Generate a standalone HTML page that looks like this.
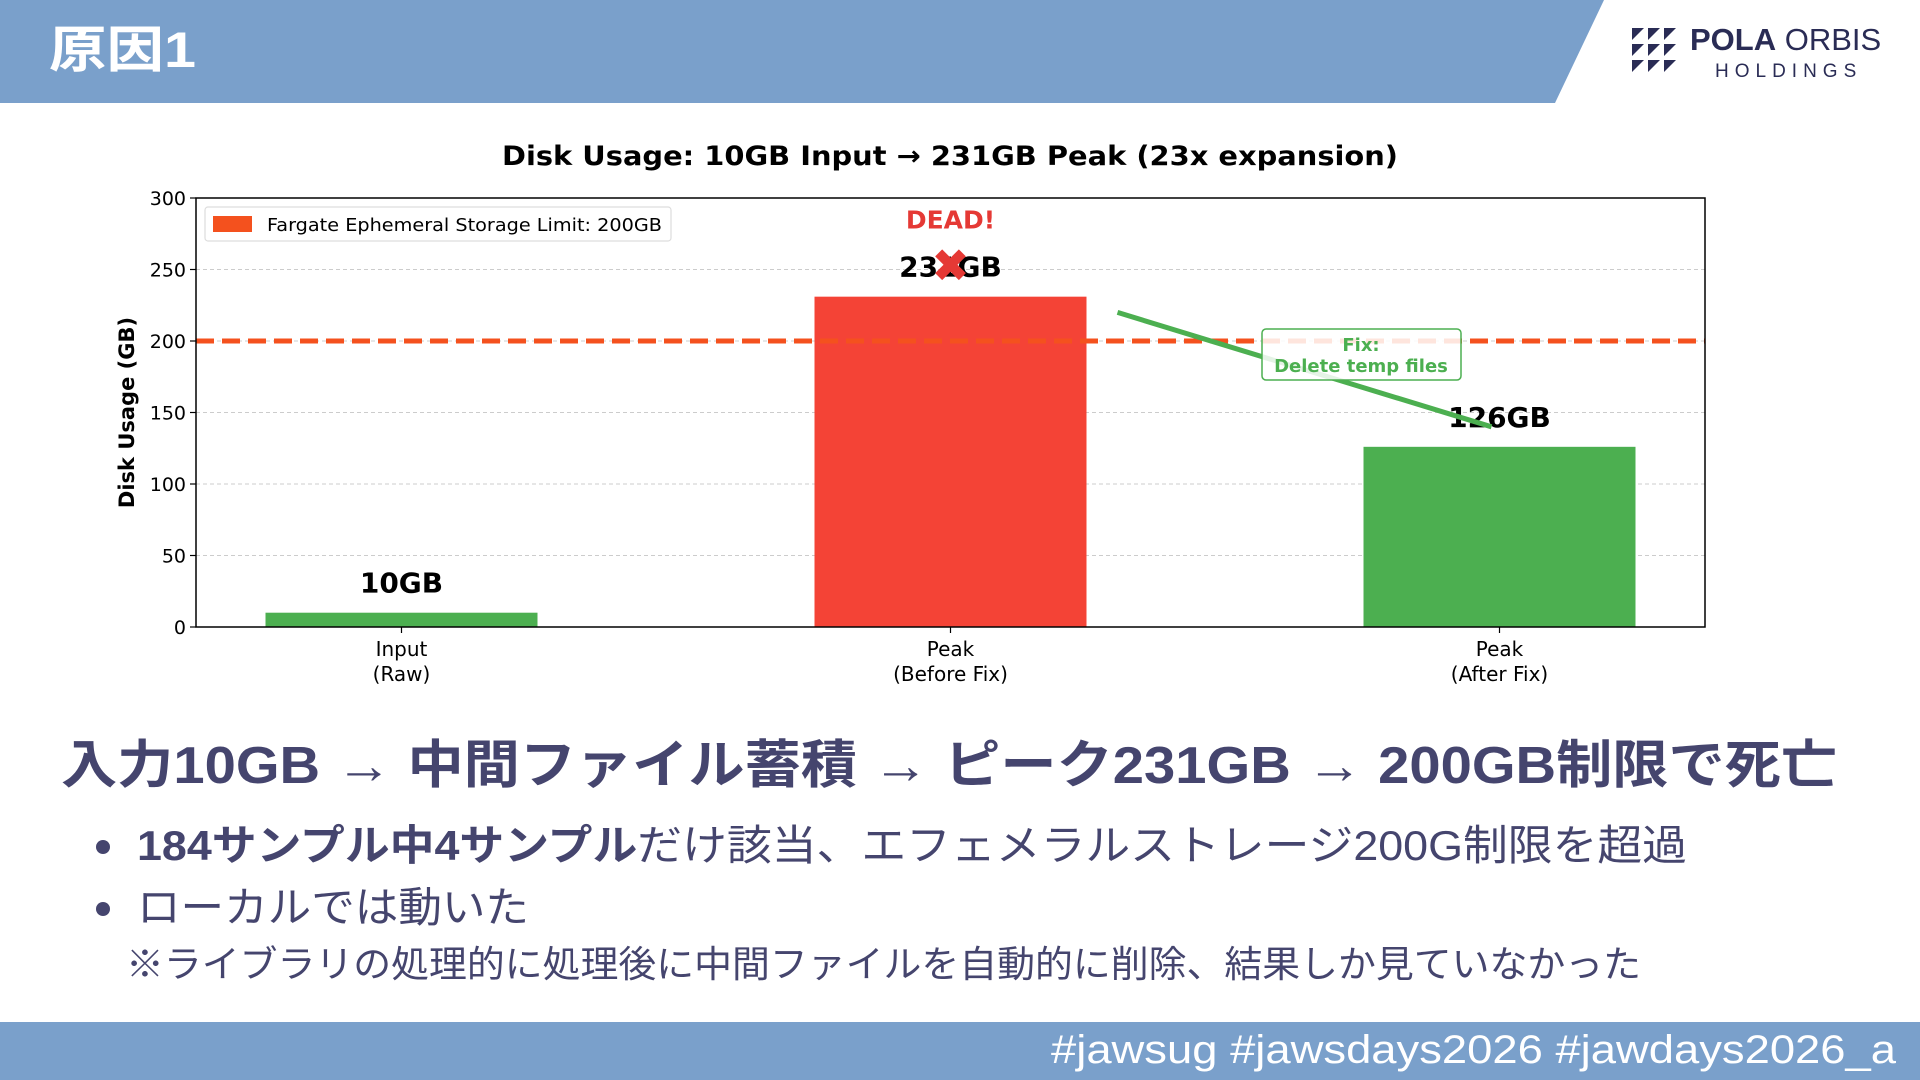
<!DOCTYPE html>
<html><head><meta charset="utf-8"><style>
html,body{margin:0;padding:0;background:#fff;width:1920px;height:1080px;overflow:hidden}
svg{display:block}
.jp{font-family:"Liberation Sans","Noto Sans CJK JP",sans-serif}
.dv{font-family:"DejaVu Sans","Liberation Sans",sans-serif}
</style></head><body>
<svg id="slide" width="1920" height="1080" viewBox="0 0 1920 1080" xmlns="http://www.w3.org/2000/svg">
<polygon points="0,0 1604,0 1555,103 0,103" fill="#7aa0cb"/>
<text x="49" y="67" class="jp" font-size="50" font-weight="bold" fill="#fff" textLength="147" lengthAdjust="spacingAndGlyphs">原因1</text>
<g>
<g fill="#2a2c55">
<polygon points="1632,28 1644,28 1632,40"/><polygon points="1648,28 1660,28 1648,40"/><polygon points="1664,28 1676,28 1664,40"/>
<polygon points="1632,44 1644,44 1632,56"/><polygon points="1648,44 1660,44 1648,56"/><polygon points="1664,44 1676,44 1664,56"/>
<polygon points="1632,60 1644,60 1632,72"/><polygon points="1648,60 1660,60 1648,72"/><polygon points="1664,60 1676,60 1664,72"/>
</g>
<text x="1690" y="50" font-family="Liberation Sans,sans-serif" font-size="31" fill="#2a2c55"><tspan font-weight="bold">POLA</tspan> ORBIS</text>
<text x="1715" y="77" font-family="Liberation Sans,sans-serif" font-size="19" letter-spacing="6" fill="#2a2c55">HOLDINGS</text>
</g>
<g id="chart"></g>
<text x="61" y="783" class="jp" font-size="52" font-weight="bold" fill="#45456e" textLength="1776" lengthAdjust="spacingAndGlyphs">入力10GB → 中間ファイル蓄積 → ピーク231GB → 200GB制限で死亡</text>
<circle cx="103" cy="847" r="7" fill="#45456e"/>
<text x="137" y="860" class="jp" font-size="42" fill="#45456e" textLength="1550" lengthAdjust="spacingAndGlyphs"><tspan font-weight="bold">184サンプル中4サンプル</tspan>だけ該当、エフェメラルストレージ200G制限を超過</text>
<circle cx="103" cy="909" r="7" fill="#45456e"/>
<text x="137" y="922" class="jp" font-size="42" fill="#45456e" textLength="392" lengthAdjust="spacingAndGlyphs">ローカルでは動いた</text>
<text x="126" y="977" class="jp" font-size="37" fill="#45456e" textLength="1515" lengthAdjust="spacingAndGlyphs">※ライブラリの処理的に処理後に中間ファイルを自動的に削除、結果しか見ていなかった</text>
<rect x="0" y="1022" width="1920" height="58" fill="#7aa0cb"/>
<text x="1896" y="1063" text-anchor="end" class="jp" font-size="40" fill="#fff" textLength="845" lengthAdjust="spacingAndGlyphs">#jawsug #jawsdays2026 #jawdays2026_a</text>
</svg>
<script>
const categories = ["Input\n(Raw)", "Peak\n(Before Fix)", "Peak\n(After Fix)"];
const values = [10, 231, 126];
const valueLabels = ["10GB", "231GB", "126GB"];
const colors = ["#4caf50", "#f44336", "#4caf50"];
const yTicks = [0, 50, 100, 150, 200, 250, 300];
const limitValue = [200];

const NS = "http://www.w3.org/2000/svg";
const g = document.getElementById("chart");
const L = 196, R = 1705, T = 198, B = 627, yMax = 300;
const y = v => B - v * (B - T) / yMax;
const slot = (R - L) / categories.length;
const xc = i => L + 25 + slot * i + slot / 2 - 25 + (i - 1) * 46;
const bw = 272;
function mk(tag, attrs, parent) {
  const e = document.createElementNS(NS, tag);
  for (const k in attrs) e.setAttribute(k, attrs[k]);
  (parent || g).appendChild(e);
  return e;
}
const title = mk("text", {x: 950, y: 165, "text-anchor": "middle", class: "dv", "font-size": 27, "font-weight": "bold", fill: "#000", textLength: 896, lengthAdjust: "spacingAndGlyphs"});
title.textContent = "Disk Usage: 10GB Input → 231GB Peak (23x expansion)";


yTicks.forEach(t => {
  if (t > 0 && t < 300) {
    const gl = mk("line", {x1: L, x2: R, y1: y(t), y2: y(t), stroke: "#ccc", "stroke-dasharray": "4,3", "stroke-width": 1});
    
    
  }
  const tk = mk("line", {x1: L - 6, x2: L, y1: y(t), y2: y(t), stroke: "#000", "stroke-width": 1.2});
  
  
  const tl = mk("text", {x: L - 10, y: y(t) + 7, "text-anchor": "end", class: "dv", "font-size": 19, fill: "#000"});
  tl.textContent = t;
  
  
});
values.forEach((v, i) => {
  const cx = xc(i);
  const b = mk("rect", {x: cx - bw / 2, y: y(v), width: bw, height: B - y(v), fill: colors[i]});
  
  
  const lab = mk("text", {x: cx, y: y(v) - 20, "text-anchor": "middle", class: "dv", "font-size": 28, "font-weight": "bold", fill: "#000"});
  lab.textContent = valueLabels[i];
  
  
  const tk = mk("line", {x1: cx, x2: cx, y1: B, y2: B + 6, stroke: "#000", "stroke-width": 1.2});
  
  
  categories[i].split("\n").forEach((ln, j) => {
    const t = mk("text", {x: cx, y: B + 29 + j * 25, "text-anchor": "middle", class: "dv", "font-size": 20, fill: "#000"});
    t.textContent = ln;
    
    
  });
});
const lim = mk("line", {x1: L, x2: R, y1: y(limitValue[0]), y2: y(limitValue[0]), stroke: "#f4511e", "stroke-width": 5, "stroke-dasharray": "18,8"});


const px = xc(1), py = y(values[1]);
const dead = mk("text", {x: px, y: py - 68, "text-anchor": "middle", class: "dv", "font-size": 25, "font-weight": "bold", fill: "#e53935"});
dead.textContent = "DEAD!";


const xm = mk("text", {x: px, y: py - 15, "text-anchor": "middle", class: "dv", "font-size": 46, "font-weight": "bold", fill: "#e53935"});
xm.textContent = "✖";


const ax = xc(2), ay = y(values[2]);
const arr = mk("line", {x1: px + 167, y1: y(220), x2: ax - 8, y2: ay - 20, stroke: "#4caf50", "stroke-width": 5});


const fb = mk("rect", {x: 1262, y: 329, width: 199, height: 51, rx: 4, fill: "rgba(255,255,255,0.85)", stroke: "#4caf50", "stroke-width": 1.5});


["Fix:", "Delete temp files"].forEach((s, j) => {
  const t = mk("text", {x: 1361, y: 351 + j * 21, "text-anchor": "middle", class: "dv", "font-size": 18, "font-weight": "bold", fill: "#4caf50"});
  t.textContent = s;
  
  
});
const frame = mk("rect", {x: L, y: T, width: R - L, height: B - T, fill: "none", stroke: "#000", "stroke-width": 1.5});


const yl = mk("text", {x: 0, y: 0, transform: "translate(134," + ((T + B) / 2) + ") rotate(-90)", "text-anchor": "middle", class: "dv", "font-size": 21, "font-weight": "bold", fill: "#000"});
yl.textContent = "Disk Usage (GB)";


const lg = mk("g", {});


mk("rect", {x: 205, y: 207, width: 466, height: 34, rx: 3, fill: "#fff", stroke: "#ddd", "stroke-width": 1.2}, lg);
mk("rect", {x: 213, y: 216, width: 39, height: 16, fill: "#f4511e"}, lg);
const lt = mk("text", {x: 267, y: 231, class: "dv", "font-size": 18, fill: "#000", textLength: 395, lengthAdjust: "spacingAndGlyphs"}, lg);
lt.textContent = "Fargate Ephemeral Storage Limit: 200GB";


</script>
</body></html>
